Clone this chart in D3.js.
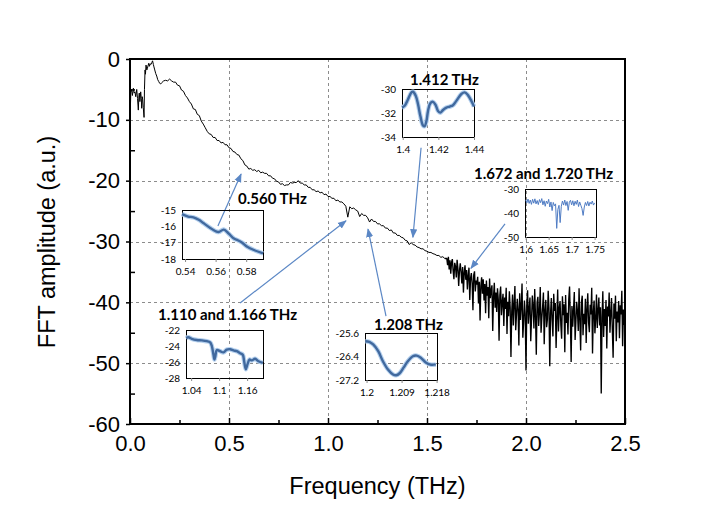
<!DOCTYPE html>
<html><head><meta charset="utf-8">
<script src="https://cdn.jsdelivr.net/npm/d3@7"></script>
<style>body{margin:0;background:#fff}svg{display:block}</style>
</head><body>
<svg id="c" width="726" height="510"></svg>
<script>
// ---------- DATA ----------
const xTickValues = [0, 0.5, 1.0, 1.5, 2.0, 2.5];
const xTickLabels = ["0.0", "0.5", "1.0", "1.5", "2.0", "2.5"];
const yTickValues = [0, -10, -20, -30, -40, -50, -60];
const yTickLabels = ["0", "-10", "-20", "-30", "-40", "-50", "-60"];

// low-frequency part (explicit frequency / amplitude pairs)
const freqA = [0.000,0.004,0.008,0.012,0.017,0.021,0.025,0.029,0.034,0.038,0.042,0.045,0.047,0.050,0.054,0.057,0.059,0.062,0.064,0.067,0.071,0.073,0.076,0.078,0.081,0.085,0.088,0.092,0.095,0.098,0.102,0.106,0.110,0.114,0.118,0.121,0.125,0.130,0.135,0.140,0.145,0.150,0.155];
const ampA  = [-10.5,-5.5,-5.0,-6.0,-4.8,-5.6,-5.4,-6.2,-5.0,-6.5,-8.4,-6.0,-5.6,-7.0,-5.4,-6.5,-8.1,-6.2,-6.7,-8.0,-9.6,-5.0,-1.8,-2.5,-1.0,-1.8,-1.5,-1.0,-0.7,-1.2,-0.8,-0.9,-0.6,-0.3,-0.9,-1.3,-1.8,-2.4,-2.8,-3.4,-3.7,-4.0,-4.1];

// mid part, sampled every 0.01 THz from 0.16 to 1.59
const freqBStart = 0.16, freqBStep = 0.01;
const ampB = [-3.9,-3.6,-3.5,-3.6,-3.3,-3.6,-3.8,-3.8,-4.3,-4.4,-5.1,-5.3,-6.0,-6.4,-7.0,-7.4,-8.2,-8.3,-9.1,-9.3,
 -10.2,-10.7,-11.3,-11.9,-12.3,-12.4,-12.9,-12.9,-13.4,-13.4,-13.8,-13.7,-14.1,-14.1,-14.6,-14.7,-15.2,-15.3,-15.7,-15.8,
 -16.4,-16.7,-17.4,-17.6,-18.1,-18.0,-18.3,-18.2,-18.5,-18.3,-18.7,-18.6,-18.8,-18.8,-19.2,-19.2,-19.6,-19.7,-20.1,-20.2,
 -20.6,-20.5,-20.8,-20.7,-20.7,-20.3,-20.4,-20.3,-20.3,-20.0,-20.4,-20.4,-20.7,-20.7,-21.1,-21.1,-21.5,-21.5,-21.8,-21.7,
 -22.0,-21.9,-22.3,-22.2,-22.6,-22.6,-22.9,-22.9,-23.3,-23.2,-23.5,-23.5,-23.8,-24.2,-26.0,-24.3,-24.6,-24.5,-24.8,-25.0,
 -25.9,-25.4,-25.7,-25.7,-26.1,-26.8,-26.3,-26.7,-26.7,-27.1,-27.1,-27.4,-27.4,-27.8,-27.8,-28.2,-28.1,-28.6,-28.6,-29.0,
 -29.0,-29.3,-29.4,-29.8,-29.9,-30.5,-30.2,-30.5,-30.6,-30.9,-31.0,-31.2,-31.2,-31.5,-31.6,-31.8,-31.8,-32.0,-32.1,-32.3,
 -32.3,-32.6,-32.5,-32.8];

// noisy high-frequency part, sampled every 0.004 THz from 1.60 to 2.50
const freqCStart = 1.60, freqCStep = 0.004;
const ampC = [
 -32.8,-33.9,-32.5,-34.6,-33.1,-35.3,-33.4,-32.9,-34.8,-36.2,-33.5,-34.1,-35.9,-33.0,-34.4,-37.3,-34.8,-33.6,-35.0,-36.9,-34.2,-38.4,-35.1,-33.9,-36.3,
 -34.7,-37.9,-35.6,-34.3,-39.6,-36.0,-35.2,-36.8,-41.3,-35.5,-34.9,-38.2,-36.4,-37.1,-35.8,-40.2,-36.6,-43.0,-37.3,-35.9,-38.6,-36.2,-39.7,-37.0,-41.8,
 -36.4,-38.9,-37.5,-42.6,-36.1,-39.3,-38.0,-37.2,-44.7,-39.0,-36.8,-40.9,-38.4,-41.6,-37.7,-39.5,-46.3,-38.8,-37.4,-42.1,-40.0,-38.6,-43.9,-39.2,-41.1,
 -37.6,-45.2,-39.9,-42.3,-38.2,-40.8,-49.0,-41.5,-38.7,-43.8,-40.2,-37.3,-44.6,-42.0,-39.4,-41.2,-47.1,-38.5,-42.9,-40.6,-36.9,-45.8,-43.2,-39.7,-41.9,
 -51.2,-40.4,-38.0,-43.5,-41.1,-39.2,-46.4,-42.7,-38.9,-40.5,-44.3,-37.8,-42.2,-48.6,-40.0,-39.1,-43.9,-41.6,-37.5,-45.0,-42.5,-40.7,-38.4,-46.9,-41.3,
 -39.6,-44.1,-42.8,-38.1,-40.9,-50.5,-41.8,-39.3,-43.0,-45.6,-38.6,-41.4,-40.1,-47.5,-42.4,-37.9,-44.8,-41.0,-39.8,-43.7,-46.0,-39.0,-42.1,-40.3,-48.2,
 -38.8,-43.4,-41.7,-45.3,-39.5,-37.4,-42.6,-49.8,-40.6,-44.0,-41.2,-38.3,-46.2,-43.1,-39.9,-41.5,-44.7,-37.7,-42.9,-47.9,-40.0,-38.9,-45.4,-41.9,-43.6,
 -39.4,-46.7,-41.0,-38.5,-43.3,-44.9,-40.4,-42.0,-37.6,-48.4,-41.6,-39.7,-45.1,-42.8,-38.7,-44.2,-41.3,-39.2,-43.8,-40.8,-55.0,-42.5,-38.2,-45.7,-41.1,
 -43.9,-39.6,-47.6,-40.7,-42.3,-38.4,-45.0,-41.8,-39.3,-44.5,-49.1,-40.2,-42.7,-38.9,-46.4,-41.5,-43.3,-39.8,-45.9,-40.5,-42.0,-38.1,-47.2,-41.2,-43.7,-40.9];

// inset zooms
const in1Freq = [0.538,0.542,0.5455,0.549,0.552,0.5565,0.560,0.562,0.5653,0.5686,0.572,0.5745,0.5774,0.5807,0.5851,0.591];
const in1Amp  = [-15.25,-15.4,-15.45,-15.6,-15.8,-16.1,-16.3,-16.35,-16.2,-16.45,-16.75,-16.85,-17.0,-17.25,-17.45,-17.65];

const in2Freq = [1.0293,1.0342,1.0414,1.0521,1.0629,1.0736,1.0807,1.0843,1.0879,1.0900,1.0921,1.0950,1.1021,1.1093,1.1164,1.1236,1.1307,1.1379,1.1450,1.1507,1.1536,1.1571,1.1607,1.1650,1.1700,1.1771,1.1843,1.1936];
const in2Amp  = [-23.0,-22.9,-23.1,-23.25,-23.3,-23.4,-23.55,-24.0,-25.1,-25.7,-25.2,-24.5,-24.65,-24.8,-24.45,-24.4,-24.55,-24.65,-24.9,-25.1,-25.9,-26.9,-26.3,-25.7,-25.8,-25.6,-25.9,-26.1];

const in3Freq = [1.1997,1.2007,1.2017,1.2030,1.2042,1.2055,1.2068,1.2076,1.2085,1.2095,1.2106,1.2119,1.2129,1.2140,1.2153,1.2166,1.2178];
const in3Amp  = [-25.88,-25.9,-25.99,-26.22,-26.56,-26.84,-27.01,-27.04,-26.97,-26.78,-26.56,-26.39,-26.37,-26.45,-26.61,-26.68,-26.67];

const in4Freq = [1.3996,1.4011,1.4030,1.4049,1.4058,1.4073,1.4086,1.4099,1.4114,1.4123,1.4133,1.4142,1.4155,1.4170,1.4185,1.4198,1.4211,1.4226,1.4245,1.4264,1.4282,1.4301,1.4329,1.4348,1.4366,1.4385,1.4400];
const in4Amp  = [-31.55,-31.4,-30.85,-30.28,-30.23,-30.56,-31.27,-32.25,-33.04,-33.1,-32.68,-31.83,-31.18,-31.07,-31.35,-31.83,-31.97,-31.75,-31.55,-31.46,-31.35,-30.99,-30.42,-30.28,-30.51,-30.99,-31.46];

const in5FreqStart = 1.6, in5FreqStep = 0.0025;
const in5Amp = [-34.5,-35.8,-34.2,-36.0,-34.6,-36.4,-34.3,-35.9,-34.1,-36.2,-34.8,-36.5,-34.4,-35.7,-34.0,-36.6,-34.9,-37.2,-35.0,-36.1,
 -34.3,-37.5,-35.4,-39.0,-35.6,-37.0,-36.2,-46.4,-38.5,-36.8,-44.0,-37.2,-35.0,-36.7,-34.6,-36.9,-35.2,-38.9,-35.5,-34.7,
 -36.6,-34.9,-37.0,-35.1,-36.4,-34.6,-37.3,-35.4,-36.8,-38.2,-41.0,-37.5,-35.6,-36.9,-35.2,-37.1,-35.5,-36.3,-35.0,-36.7,-35.8];

const annLabels = ["0.560 THz", "1.110 and 1.166 THz", "1.208 THz", "1.412 THz", "1.672 and 1.720 THz"];
// arrows: [fromFreq, fromAmp, toFreq, toAmp] in main-plot units
const annArrows = [
  [0.444, -27.45, 0.561, -18.9],
  [0.556, -40.1, 1.091, -26.6],
  [1.293, -42.25, 1.202, -27.95],
  [1.470, -14.6, 1.429, -29.3],
  [1.894, -27.1, 1.722, -34.4]
];

// ---------- LAYOUT ----------
const svg = d3.select("#c");
const L = 130, R = 625, T = 59, B = 424;
const x = d3.scaleLinear().domain([0, 2.5]).range([L, R]);
const y = d3.scaleLinear().domain([-60, 0]).range([B, T]);
const FONT = "'Liberation Sans', Arial, sans-serif";
const CAL = "Lato, 'Open Sans', sans-serif";

// gridlines
const grid = svg.append("g").attr("stroke", "#8c8c8c").attr("stroke-width", 1).attr("stroke-dasharray", "3,3");
grid.selectAll("line.gx").data(xTickValues.slice(1, -1)).join("line")
  .attr("x1", d => Math.round(x(d)) + 0.5).attr("x2", d => Math.round(x(d)) + 0.5).attr("y1", T).attr("y2", B);
grid.selectAll("line.gy").data(yTickValues.slice(1, -1)).join("line")
  .attr("y1", d => Math.round(y(d)) + 0.5).attr("y2", d => Math.round(y(d)) + 0.5).attr("x1", L).attr("x2", R);

// main spectrum
const ptsSmooth = [];
freqA.forEach((f, i) => ptsSmooth.push([f, ampA[i]]));
ampB.forEach((a, i) => ptsSmooth.push([freqBStart + i * freqBStep, a]));
const ptsNoise = [ptsSmooth[ptsSmooth.length - 1]];
ampC.forEach((a, i) => ptsNoise.push([freqCStart + i * freqCStep, a]));
const mainLine = d3.line().x(d => x(d[0])).y(d => y(d[1]));
svg.append("path").datum(ptsSmooth).attr("d", mainLine)
  .attr("fill", "none").attr("stroke", "#000").attr("stroke-width", 1);
svg.append("path").datum(ptsNoise).attr("d", mainLine)
  .attr("fill", "none").attr("stroke", "#000").attr("stroke-width", 1.35).attr("stroke-linejoin", "bevel");

// axes
const gL = svg.append("g").attr("transform", `translate(${L},0)`)
  .call(d3.axisLeft(y).tickValues(yTickValues).tickFormat((d, i) => yTickLabels[i]).tickSize(4).tickPadding(6));
const gLm = svg.append("g").attr("transform", `translate(${L},0)`)
  .call(d3.axisRight(y).tickValues(d3.range(-55, 0, 10)).tickFormat("").tickSize(5));
const gB = svg.append("g").attr("transform", `translate(0,${B})`)
  .call(d3.axisBottom(x).tickValues(xTickValues).tickFormat((d, i) => xTickLabels[i]).tickSize(0).tickPadding(11));
const gBt = svg.append("g").attr("transform", `translate(0,${B})`)
  .call(d3.axisTop(x).tickValues(xTickValues).tickFormat("").tickSize(6));
const gBm = svg.append("g").attr("transform", `translate(0,${B})`)
  .call(d3.axisTop(x).tickValues(d3.range(0.25, 2.5, 0.5)).tickFormat("").tickSize(4));
[gL, gLm, gB, gBt, gBm].forEach(g => {
  g.select(".domain").remove();
  g.selectAll(".tick line").attr("stroke", "#000").attr("stroke-width", 1.5);
  g.selectAll("text").attr("font-family", FONT).attr("font-size", 22).attr("fill", "#000");
});
// frame
svg.append("rect").attr("x", L).attr("y", T).attr("width", R - L).attr("height", B - T)
  .attr("fill", "none").attr("stroke", "#000").attr("stroke-width", 2);

// axis titles
svg.append("text").attr("x", (L + R) / 2).attr("y", 494).attr("text-anchor", "middle")
  .attr("font-family", FONT).attr("font-size", 23.5).text("Frequency (THz)");
svg.append("text").attr("transform", "translate(55,242) rotate(-90)").attr("text-anchor", "middle")
  .attr("font-family", FONT).attr("font-size", 23.5).text("FFT amplitude (a.u.)");

// arrows
const ARROW = "#5b87c5";
svg.append("defs").append("marker").attr("id", "ah").attr("viewBox", "0 0 10 10")
  .attr("refX", 9).attr("refY", 5).attr("markerWidth", 9).attr("markerHeight", 9)
  .attr("orient", "auto").attr("markerUnits", "userSpaceOnUse")
  .append("path").attr("d", "M0,1 L10,5 L0,9 Z").attr("fill", ARROW);
svg.selectAll("line.arr").data(annArrows).join("line").attr("class", "arr")
  .attr("x1", d => x(d[0])).attr("y1", d => y(d[1])).attr("x2", d => x(d[2])).attr("y2", d => y(d[3]))
  .attr("stroke", ARROW).attr("stroke-width", 1.2).attr("marker-end", "url(#ah)");

// annotation labels
const labelPos = [[238, 204], [158, 320], [374, 330], [410, 85], [474, 179]];
svg.selectAll("text.ann").data(annLabels).join("text").attr("class", "ann")
  .attr("x", (d, i) => labelPos[i][0]).attr("y", (d, i) => labelPos[i][1])
  .attr("font-family", CAL).attr("font-weight", 700).attr("font-size", 15).attr("fill", "#000").text(d => d);

// insets
function inset(cfg) {
  const g = svg.append("g");
  const ix = d3.scaleLinear().domain(cfg.xd).range([cfg.box[0], cfg.box[2]]);
  const iy = d3.scaleLinear().domain(cfg.yd).range([cfg.box[3], cfg.box[1]]);
  g.append("rect").attr("x", cfg.box[0] + 0.5).attr("y", cfg.box[1] + 0.5)
    .attr("width", cfg.box[2] - cfg.box[0]).attr("height", cfg.box[3] - cfg.box[1])
    .attr("fill", "none").attr("stroke", "#000").attr("stroke-width", 1);
  const ax = g.append("g").attr("transform", `translate(0,${cfg.box[3]})`)
    .call(d3.axisBottom(ix).tickValues(cfg.xt).tickFormat((d, i) => cfg.xl[i]).tickSize(3).tickPadding(6));
  const ay = g.append("g").attr("transform", `translate(${cfg.box[0]},0)`)
    .call(d3.axisLeft(iy).tickValues(cfg.yt).tickFormat(d => String(d)).tickSize(0).tickPadding(6));
  [ax, ay].forEach(a => {
    a.select(".domain").remove();
    a.selectAll(".tick line").attr("stroke", "#888");
    a.selectAll("text").attr("font-family", CAL).attr("font-size", 10).attr("fill", "#000");
  });
  const ln = d3.line().x(d => ix(d[0])).y(d => iy(d[1]));
  if (cfg.thick) {
    ln.curve(d3.curveCatmullRom.alpha(0.5));
    g.append("path").datum(cfg.data).attr("d", ln).attr("fill", "none")
      .attr("stroke", "#b4d0ee").attr("stroke-width", 4.5).attr("stroke-linejoin", "round");
    g.append("path").datum(cfg.data).attr("d", ln).attr("fill", "none")
      .attr("stroke", "#41699e").attr("stroke-width", 2.4).attr("stroke-linejoin", "round");
  } else {
    g.append("path").datum(cfg.data).attr("d", ln).attr("fill", "none")
      .attr("stroke", "#4f7cc4").attr("stroke-width", 1);
  }
}
const zip = (a, b) => a.map((v, i) => [v, b[i]]);
inset({box: [182, 210, 263, 259], xd: [0.538, 0.591], yd: [-18, -15],
  xt: [0.54, 0.56, 0.58], xl: ["0.54", "0.56", "0.58"], yt: [-15, -16, -17, -18],
  data: zip(in1Freq, in1Amp), thick: true});
inset({box: [186, 330, 263, 378], xd: [1.029, 1.194], yd: [-28, -22],
  xt: [1.04, 1.1, 1.16], xl: ["1.04", "1.1", "1.16"], yt: [-22, -24, -26, -28],
  data: zip(in2Freq, in2Amp), thick: true});
inset({box: [365, 333, 437, 380], xd: [1.1996, 1.2181], yd: [-27.2, -25.6],
  xt: [1.2, 1.209, 1.218], xl: ["1.2", "1.209", "1.218"], yt: [-25.6, -26.4, -27.2],
  data: zip(in3Freq, in3Amp), thick: true});
inset({box: [402, 89, 474, 137], xd: [1.3996, 1.44], yd: [-34, -30],
  xt: [1.4, 1.42, 1.44], xl: ["1.4", "1.42", "1.44"], yt: [-30, -32, -34],
  data: zip(in4Freq, in4Amp), thick: true});
inset({box: [525, 189, 596, 237], xd: [1.5985, 1.753], yd: [-50, -30],
  xt: [1.6, 1.65, 1.7, 1.75], xl: ["1.6", "1.65", "1.7", "1.75"], yt: [-30, -40, -50],
  data: in5Amp.map((a, i) => [in5FreqStart + i * in5FreqStep, a]), thick: false});
</script>
</body></html>
